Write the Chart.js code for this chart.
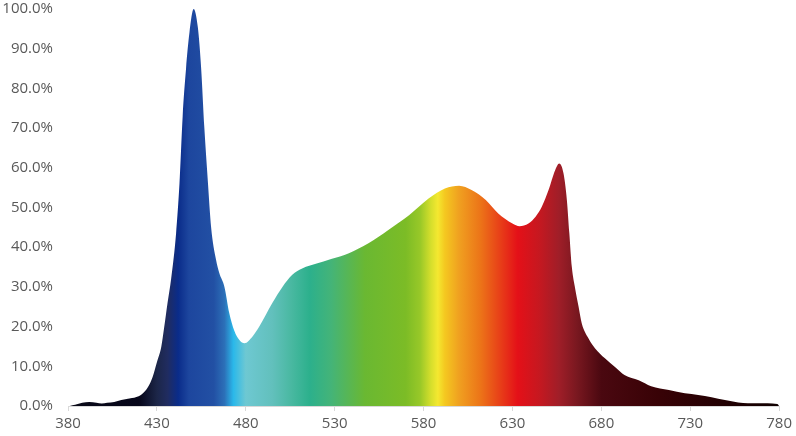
<!DOCTYPE html>
<html>
<head>
<meta charset="utf-8">
<script src="https://cdn.jsdelivr.net/npm/chart.js@4/dist/chart.umd.min.js"></script>
<style>
  html, body { margin: 0; padding: 0; background: #fff; }
  #wrap { width: 796px; height: 436px; }
</style>
</head>
<body>
<div id="wrap"><canvas id="spectrum"></canvas></div>
<script>
// Spectral power distribution, relative intensity (%) per wavelength (nm)
const wavelengths = [
  381, 384, 388, 392, 396, 399, 402, 406, 410, 416, 421, 425, 427.6, 430, 432.5,
  434, 436, 438, 440.8, 442.7, 444.5, 446.4, 448.3, 450.7, 453, 454.9, 456.7,
  458.6, 460.5, 463.3, 465.1, 468, 470.7, 473.5, 476.4, 479.3, 483.8, 487.6,
  495, 500.6, 506, 512, 519.4, 528, 538, 549, 560, 572, 583, 592, 600, 607,
  615, 622, 630, 634, 639, 643, 646.5, 650.3, 654, 656.3, 658.7, 660.6, 662,
  663.4, 665.3, 667.2, 669, 672.8, 676.5, 682, 688, 693, 701, 708, 718, 727,
  734.5, 742, 749.5, 757, 768, 779, 780
];
const intensity = [
  0, 0.3, 0.8, 1.0, 0.8, 0.6, 0.8, 1.0, 1.5, 2.0, 2.8, 4.8, 7.3, 11, 15,
  19.5, 26, 32, 43.5, 56, 73, 85, 94, 100, 95.5, 85, 70,
  57, 45, 36.8, 33.5, 30, 23.4, 19, 16.6, 15.8, 17.5, 20,
  26, 30, 33, 34.7, 35.8, 37, 38.5, 41, 44.3, 48.1, 52.3, 54.8, 55.5, 54.4,
  51.9, 48.5, 46, 45.3, 46, 47.7, 50.2, 54.4, 59.4, 61.1, 58.6, 51.9, 43.5,
  35, 29.5, 25, 20.8, 17, 14.5, 12, 9.7, 7.8, 6.5, 5, 4, 3.2,
  2.8, 2.2, 1.5, 0.9, 0.7, 0.5, 0
];
const xMin = 380, xMax = 780, xStep = 50;
const yMin = 0, yMax = 100, yStep = 10;

// colour of the fill along the wavelength axis
const stopNm = [380, 420, 430, 436, 442, 448, 462, 468, 473, 480, 495, 506, 516, 528, 547, 570, 578, 584, 588, 592, 600, 612, 622, 633, 645, 656, 666, 680, 712, 780];
const stopColor = ['#0a0a18', '#06061a', '#1c2648', '#202c60', '#0a2c8a', '#1d469e', '#2250a4', '#2c70b8', '#2ab8ea', '#6ec8d2', '#62c0bc', '#48b8a0', '#2cb08c', '#44b478', '#6ab832', '#7cbc26', '#98c828', '#d4de2c', '#f4e830', '#f4c820', '#f0a020', '#ec7418', '#e84418', '#e41018', '#c61820', '#a01e28', '#7a1820', '#4a0810', '#380206', '#100000'];

const points = wavelengths.map((w, i) => ({ x: w, y: intensity[i] }));

function spectrumFill(context) {
  const chart = context.chart;
  const xs = chart.scales.x;
  if (!chart.chartArea || !xs) return '#1f4a9e';
  const g = chart.ctx.createLinearGradient(xs.getPixelForValue(xMin), 0, xs.getPixelForValue(xMax), 0);
  stopNm.forEach((nm, i) => g.addColorStop((nm - xMin) / (xMax - xMin), stopColor[i]));
  return g;
}

const tickFont = { family: '"Open Sans", "DejaVu Sans", sans-serif', size: 15 };

new Chart(document.getElementById('spectrum'), {
  type: 'line',
  data: {
    datasets: [{
      data: points,
      fill: 'origin',
      backgroundColor: spectrumFill,
      borderWidth: 0,
      pointRadius: 0,
      cubicInterpolationMode: 'monotone'
    }]
  },
  options: {
    responsive: true,
    maintainAspectRatio: false,
    animation: false,
    layout: { padding: { top: 0, right: 1, left: 0, bottom: 0 } },
    plugins: { legend: { display: false }, tooltip: { enabled: false } },
    scales: {
      x: {
        type: 'linear',
        min: xMin,
        max: xMax,
        afterFit: s => { s.height = 30; },
        ticks: {
          stepSize: xStep,
          color: '#595959',
          font: tickFont,
          padding: 4,
          maxRotation: 0,
          callback: v => String(v)
        },
        grid: { display: true, drawOnChartArea: false, drawTicks: true, tickLength: 5, color: '#d9d9d9' },
        border: { display: true, color: '#d9d9d9' }
      },
      y: {
        min: yMin,
        max: yMax,
        afterFit: s => { s.width = 68; s.paddingTop = 9; s.paddingBottom = 9; },
        ticks: {
          stepSize: yStep,
          color: '#595959',
          font: tickFont,
          padding: 15,
          callback: v => v.toFixed(1) + '%'
        },
        grid: { display: false, drawTicks: false },
        border: { display: false }
      }
    }
  }
});
</script>
</body>
</html>
